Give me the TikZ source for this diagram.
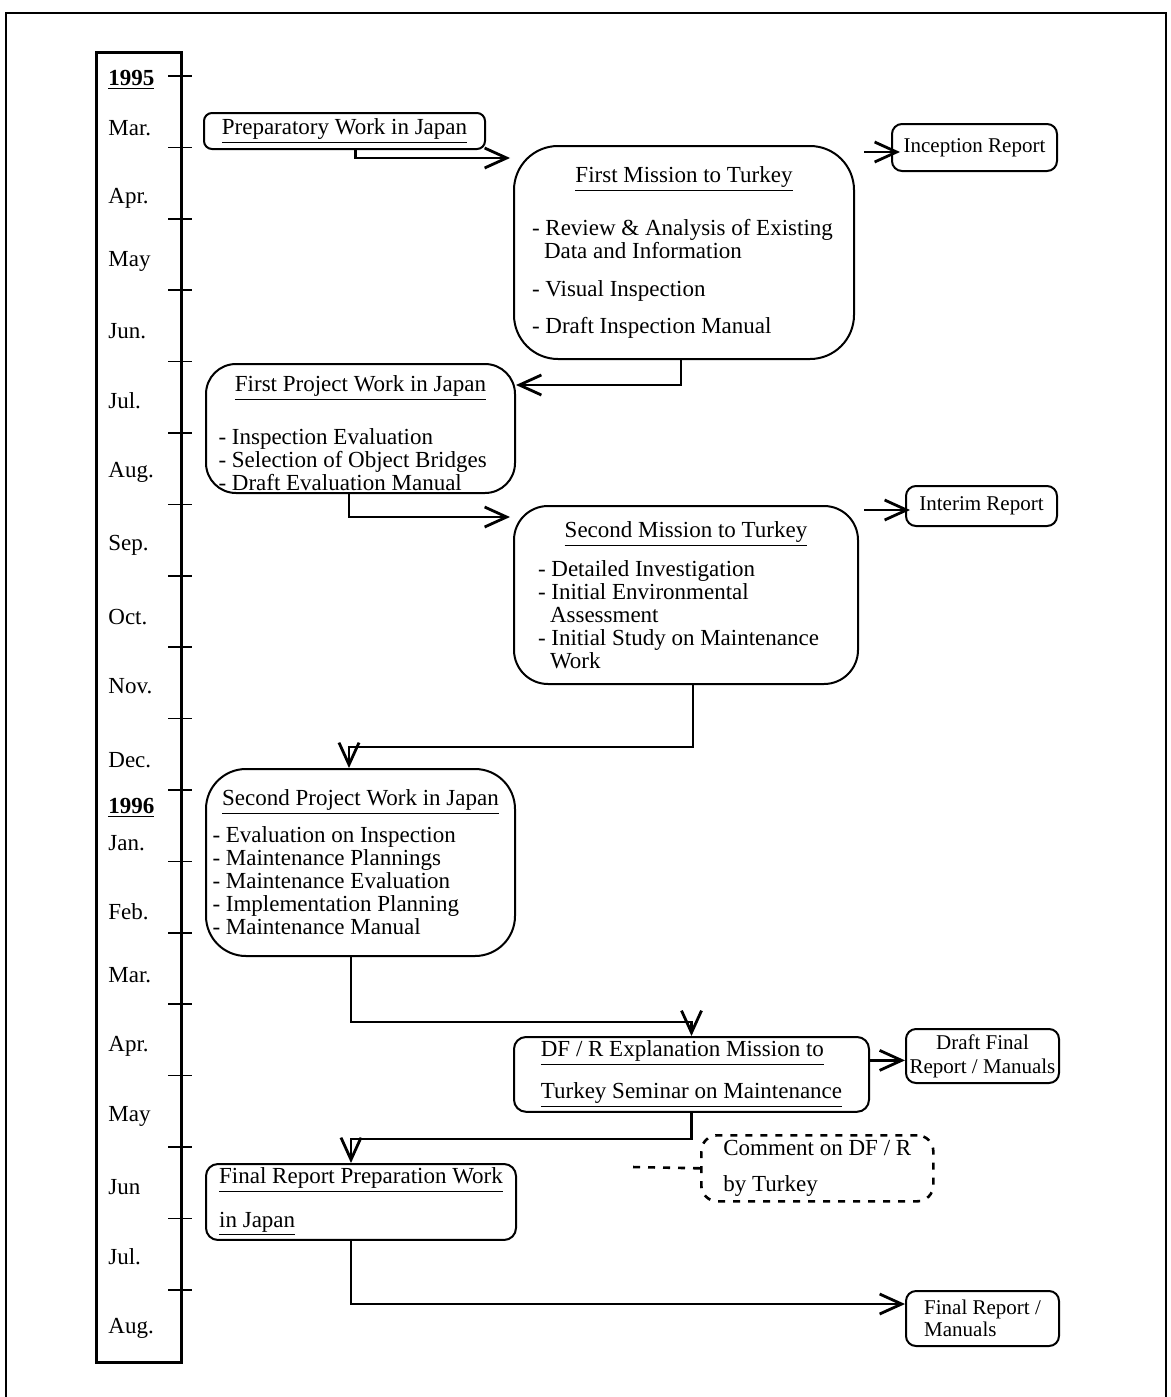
\documentclass[tikz,border=0pt]{standalone}
\usepackage{fontspec}
\setmainfont{Liberation Serif}
\usetikzlibrary{arrows.meta}

\newcommand\boxfont{\fontsize{11.5pt}{11.5pt}\selectfont}
\newcommand\reportfont{\fontsize{10.5pt}{11pt}\selectfont}

\tikzset{
  stage/.style={draw, line width=1pt, rounded corners=#1, anchor=north west,
    font=\boxfont, inner xsep=2pt, inner ysep=2pt},
  stage/.default=6pt,
  report/.style={stage=5pt, font=\reportfont, inner xsep=1pt},
  flow/.style={line width=1.2pt, -{Straight Barb[length=11pt,width=10pt,line width=1.4pt]}},
  note/.style={line width=1.3pt, dash pattern=on 3.5pt off 4pt},
  tick/.style={line width=0.8pt},
  month/.style={anchor=west, font=\boxfont, inner sep=0pt},
}

\begin{document}
\begin{tikzpicture}[x=0.5pt, y=-0.5pt]
\useasboundingbox (0,0) rectangle (1171,1397);
% frame, open at the bottom
\draw[line width=1.2pt] (6,1397) -- (6,13) -- (1166,13) -- (1166,1397);

% time axis
\node[draw, line width=1.6pt, anchor=north west, minimum width=42.5pt,
  minimum height=655pt, inner sep=0pt] (axis) at (95,51) {};
\foreach \i in {0,...,17}
  \draw[tick] (168,{76+71.4*\i}) -- (192,{76+71.4*\i});
\node[month, font=\boxfont\bfseries] (y1995) at (108,80) {\underline{1995}};
\node[month, font=\boxfont\bfseries] (y1996) at (108,808) {\underline{1996}};
\foreach \m/\y [count=\k] in {Mar./128, Apr./198, May/261, Jun./331, Jul./401,
    Aug./472, Sep./545, Oct./617, Nov./686, Dec./760, Jan./843, Feb./912,
    Mar./975, Apr./1046, May/1116, Jun/1187, Jul./1257, Aug./1328}
  \node[month] (mon\k) at (108,\y) {\m};

% work stages
\node[stage=4pt, minimum width=140.5pt, minimum height=18pt] (prep) at (203,112)
  {\underline{Preparatory Work in Japan}};
\node[report, minimum width=82.5pt, minimum height=23.5pt] (inception) at (891,123)
  {Inception Report};
\node[stage=22pt, minimum width=170pt, minimum height=106.5pt, text width=152pt,
  align=flush left] (mission1) at (513,145)
  {{\centering\underline{First Mission to Turkey}\par}\vspace{13pt}
   - Review \& Analysis of Existing\\
   \hspace*{6pt}Data and Information\\[7.5pt]
   - Visual Inspection\\[7pt]
   - Draft Inspection Manual};
\node[stage=15pt, minimum width=154.5pt, minimum height=64.5pt, text width=142pt,
  align=flush left] (project1) at (205,363)
  {{\centering\underline{First Project Work in Japan}\par}\vspace{13pt}
   - Inspection Evaluation\\
   - Selection of Object Bridges\\
   - Draft Evaluation Manual\vspace{-5pt}};
\node[stage=17pt, minimum width=172pt, minimum height=89pt, text width=148pt,
  align=flush left] (mission2) at (513,505)
  {{\centering\underline{Second Mission to Turkey}\par}\vspace{6pt}
   - Detailed Investigation\\
   - Initial Environmental\\
   \hspace*{6pt}Assessment\\
   - Initial Study on Maintenance\\
   \hspace*{6pt}Work};
\node[report, minimum width=75.5pt, minimum height=20pt] (interim) at (905,485)
  {Interim Report};
\node[stage=20pt, minimum width=154.5pt, minimum height=93.5pt, text width=148pt,
  align=flush left] (project2) at (205,768)
  {{\centering\underline{Second Project Work in Japan}\par}\vspace{5pt}
   - Evaluation on Inspection\\
   - Maintenance Plannings\\
   - Maintenance Evaluation\\
   - Implementation Planning\\
   - Maintenance Manual};
\node[stage=6pt, minimum width=177.5pt, minimum height=35.5pt, align=left] (dfr) at (513,1036)
  {\underline{DF / R Explanation Mission to}\\[7.5pt]
   \underline{Turkey Seminar on Maintenance}};
\node[report, minimum width=76.5pt, minimum height=27pt, align=center] (draftfinal) at (905,1028)
  {Draft Final\\[1pt]Report / Manuals};
\node[stage=8pt, note, minimum width=116pt, minimum height=33pt, align=left] (comment) at (700,1134)
  {Comment on DF / R\\[6.5pt]by Turkey};
\coordinate (tail) at (632,1167);
\node[stage=6pt, minimum width=155pt, minimum height=36pt, align=left] (prepfinal) at (205,1163)
  {\underline{Final Report Preparation Work}\\[8.5pt]\underline{in Japan}};
\node[report, minimum width=76.5pt, minimum height=27.5pt, align=left] (finalrep) at (905,1290)
  {Final Report /\\Manuals};

% connectors
\draw[flow] ([xshift=5.5pt]prep.south) |- ([xshift=-1.5pt,yshift=-6.5pt]mission1.north west);
\draw[flow] ([xshift=4.5pt,yshift=-3.5pt]mission1.north east)
  -- ([xshift=4.5pt,yshift=-3.5pt]mission1.north east -| inception.west);
\draw[flow] ([xshift=-1.5pt]mission1.south) |- ([yshift=-11pt]project1.north east);
\draw[flow] ([xshift=-5.75pt]project1.south) |- ([xshift=-1.5pt,yshift=-6pt]mission2.north west);
\draw[flow] ([xshift=2.5pt,yshift=-2.5pt]mission2.north east)
  -- ([xshift=2.5pt,yshift=-2.5pt]mission2.north east -| interim.west);
\draw[flow] ([xshift=3.5pt]mission2.south) -- ++(0,-31pt) -| ([xshift=-5.75pt]project2.north);
\draw[flow] ([xshift=-4.75pt]project2.south) -- ++(0,-32.5pt) -| (dfr.north);
\draw[flow] ([yshift=7pt]dfr.east) -- ([yshift=7pt]dfr.east -| draftfinal.west);
\draw[flow] (dfr.south) -- ++(0,-13pt) -| ([xshift=-5pt]prepfinal.north);
\draw[flow] ([xshift=-5pt]prepfinal.south) |- ([yshift=-7pt]finalrep.north west);
\draw[note] (comment.west) -- (tail);
\end{tikzpicture}
\end{document}
